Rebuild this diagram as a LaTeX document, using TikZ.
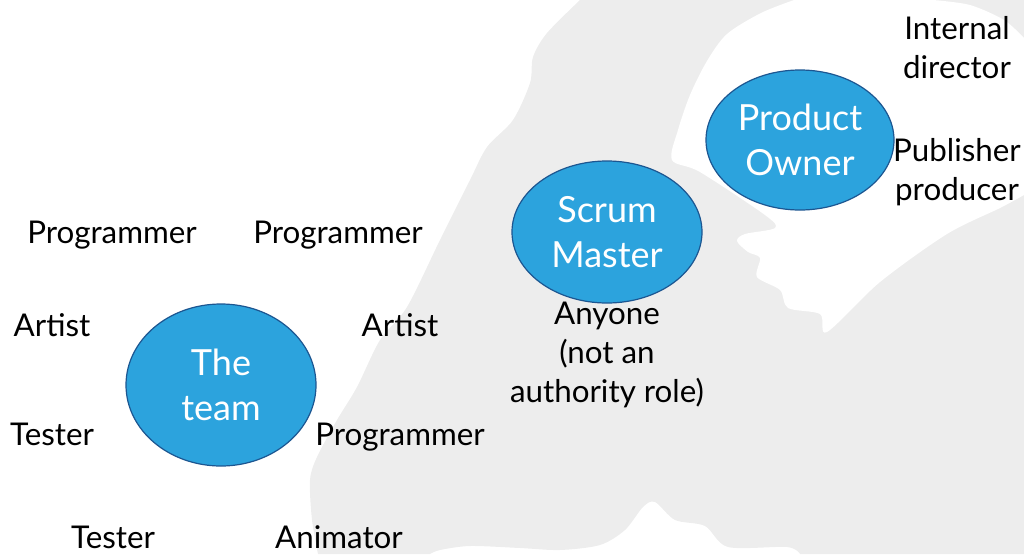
\documentclass[tikz,border=0pt]{standalone}
\usepackage{fontspec}
\setmainfont{Lato}
\usepackage{tikz}
\usetikzlibrary{shapes.geometric}
\definecolor{rolefill}{RGB}{44,163,221}
\definecolor{roleedge}{RGB}{28,86,145}
\definecolor{silhouette}{RGB}{237,237,237}
\begin{document}
\begin{tikzpicture}
[x=0.75pt,y=-0.75pt,
  roledecorate/.style={shape=ellipse,draw=roleedge,fill=rolefill,line width=0.9pt,%
    text=white,align=center,inner sep=0pt,font=\fontsize{27}{33.75}\selectfont},%
  labeldecorate/.style={anchor=base,align=center,inner sep=0pt,font=\fontsize{23.5}{29}\selectfont},%
  shapedecorate/.style={fill=silhouette}]
\useasboundingbox (0,0) rectangle (1024,554);
%% background silhouette
\fill[shapedecorate] (580,0) -- (1024,0) -- (1024,554) -- (800,554)
  -- plot[smooth] coordinates {(800,554) (787,547) (728,547) (705,526) (675,520)
  (655,502) (643,507) (625,530) (600,545) (560,550) (520,548) (470,546) (440,550)
  (430,554)} -- (318,554)
  -- plot[smooth] coordinates {(318,554) (312,520) (310,480) (317,457) (337,420)
  (357,387) (380,340) (407,307) (440,240) (470,180) (487,147) (513,120) (530,83)
  (533,57) (547,33) (580,0)} -- cycle;
\fill[white] (794,0)
  -- plot[smooth] coordinates {(794,0) (761,13) (727,34) (707,61) (690,95) (678,130)
  (672,160) (700,172) (765,215) (775,228) (745,234) (737,241) (748,252) (760,258)
  (757,277) (780,290) (788,308) (820,314) (827,332) (880,282) (947,234) (1000,208)
  (1024,195)} -- (1024,38)
  -- plot[smooth] coordinates {(1024,38) (1004,20) (970,5) (933,0)} -- cycle;
%% roles
\foreach \nodename/\x/\y/\w/\h/\rolename in {team/221/385/190/162/{The\\team},
  scrum/607/232/190/142/{Scrum\\Master}, owner/800/140/188/140/{Product\\Owner}}
{
  \node (\nodename) at (\x,\y) [roledecorate,minimum width=\w*0.75pt,minimum height=\h*0.75pt] {\rolename};
}
%% people around the roles (y is the baseline of the last line)
\foreach \nodename/\x/\y/\labeltext in {progA/112/243/Programmer, progB/338/243/Programmer,
  artistA/52/336/Artist, artistB/400/336/Artist, testerA/52/445/Tester,
  progC/400/445/Programmer, testerB/113/548/Tester, animator/339/548/Animator,
  anyone/607/402/{Anyone\\(not an\\authority role)}, internal/957/78/{Internal\\director},
  publisher/957/200/{Publisher\\producer}}
{
  \node (\nodename) at (\x,\y) [labeldecorate] {\labeltext};
}
\end{tikzpicture}
\end{document}
